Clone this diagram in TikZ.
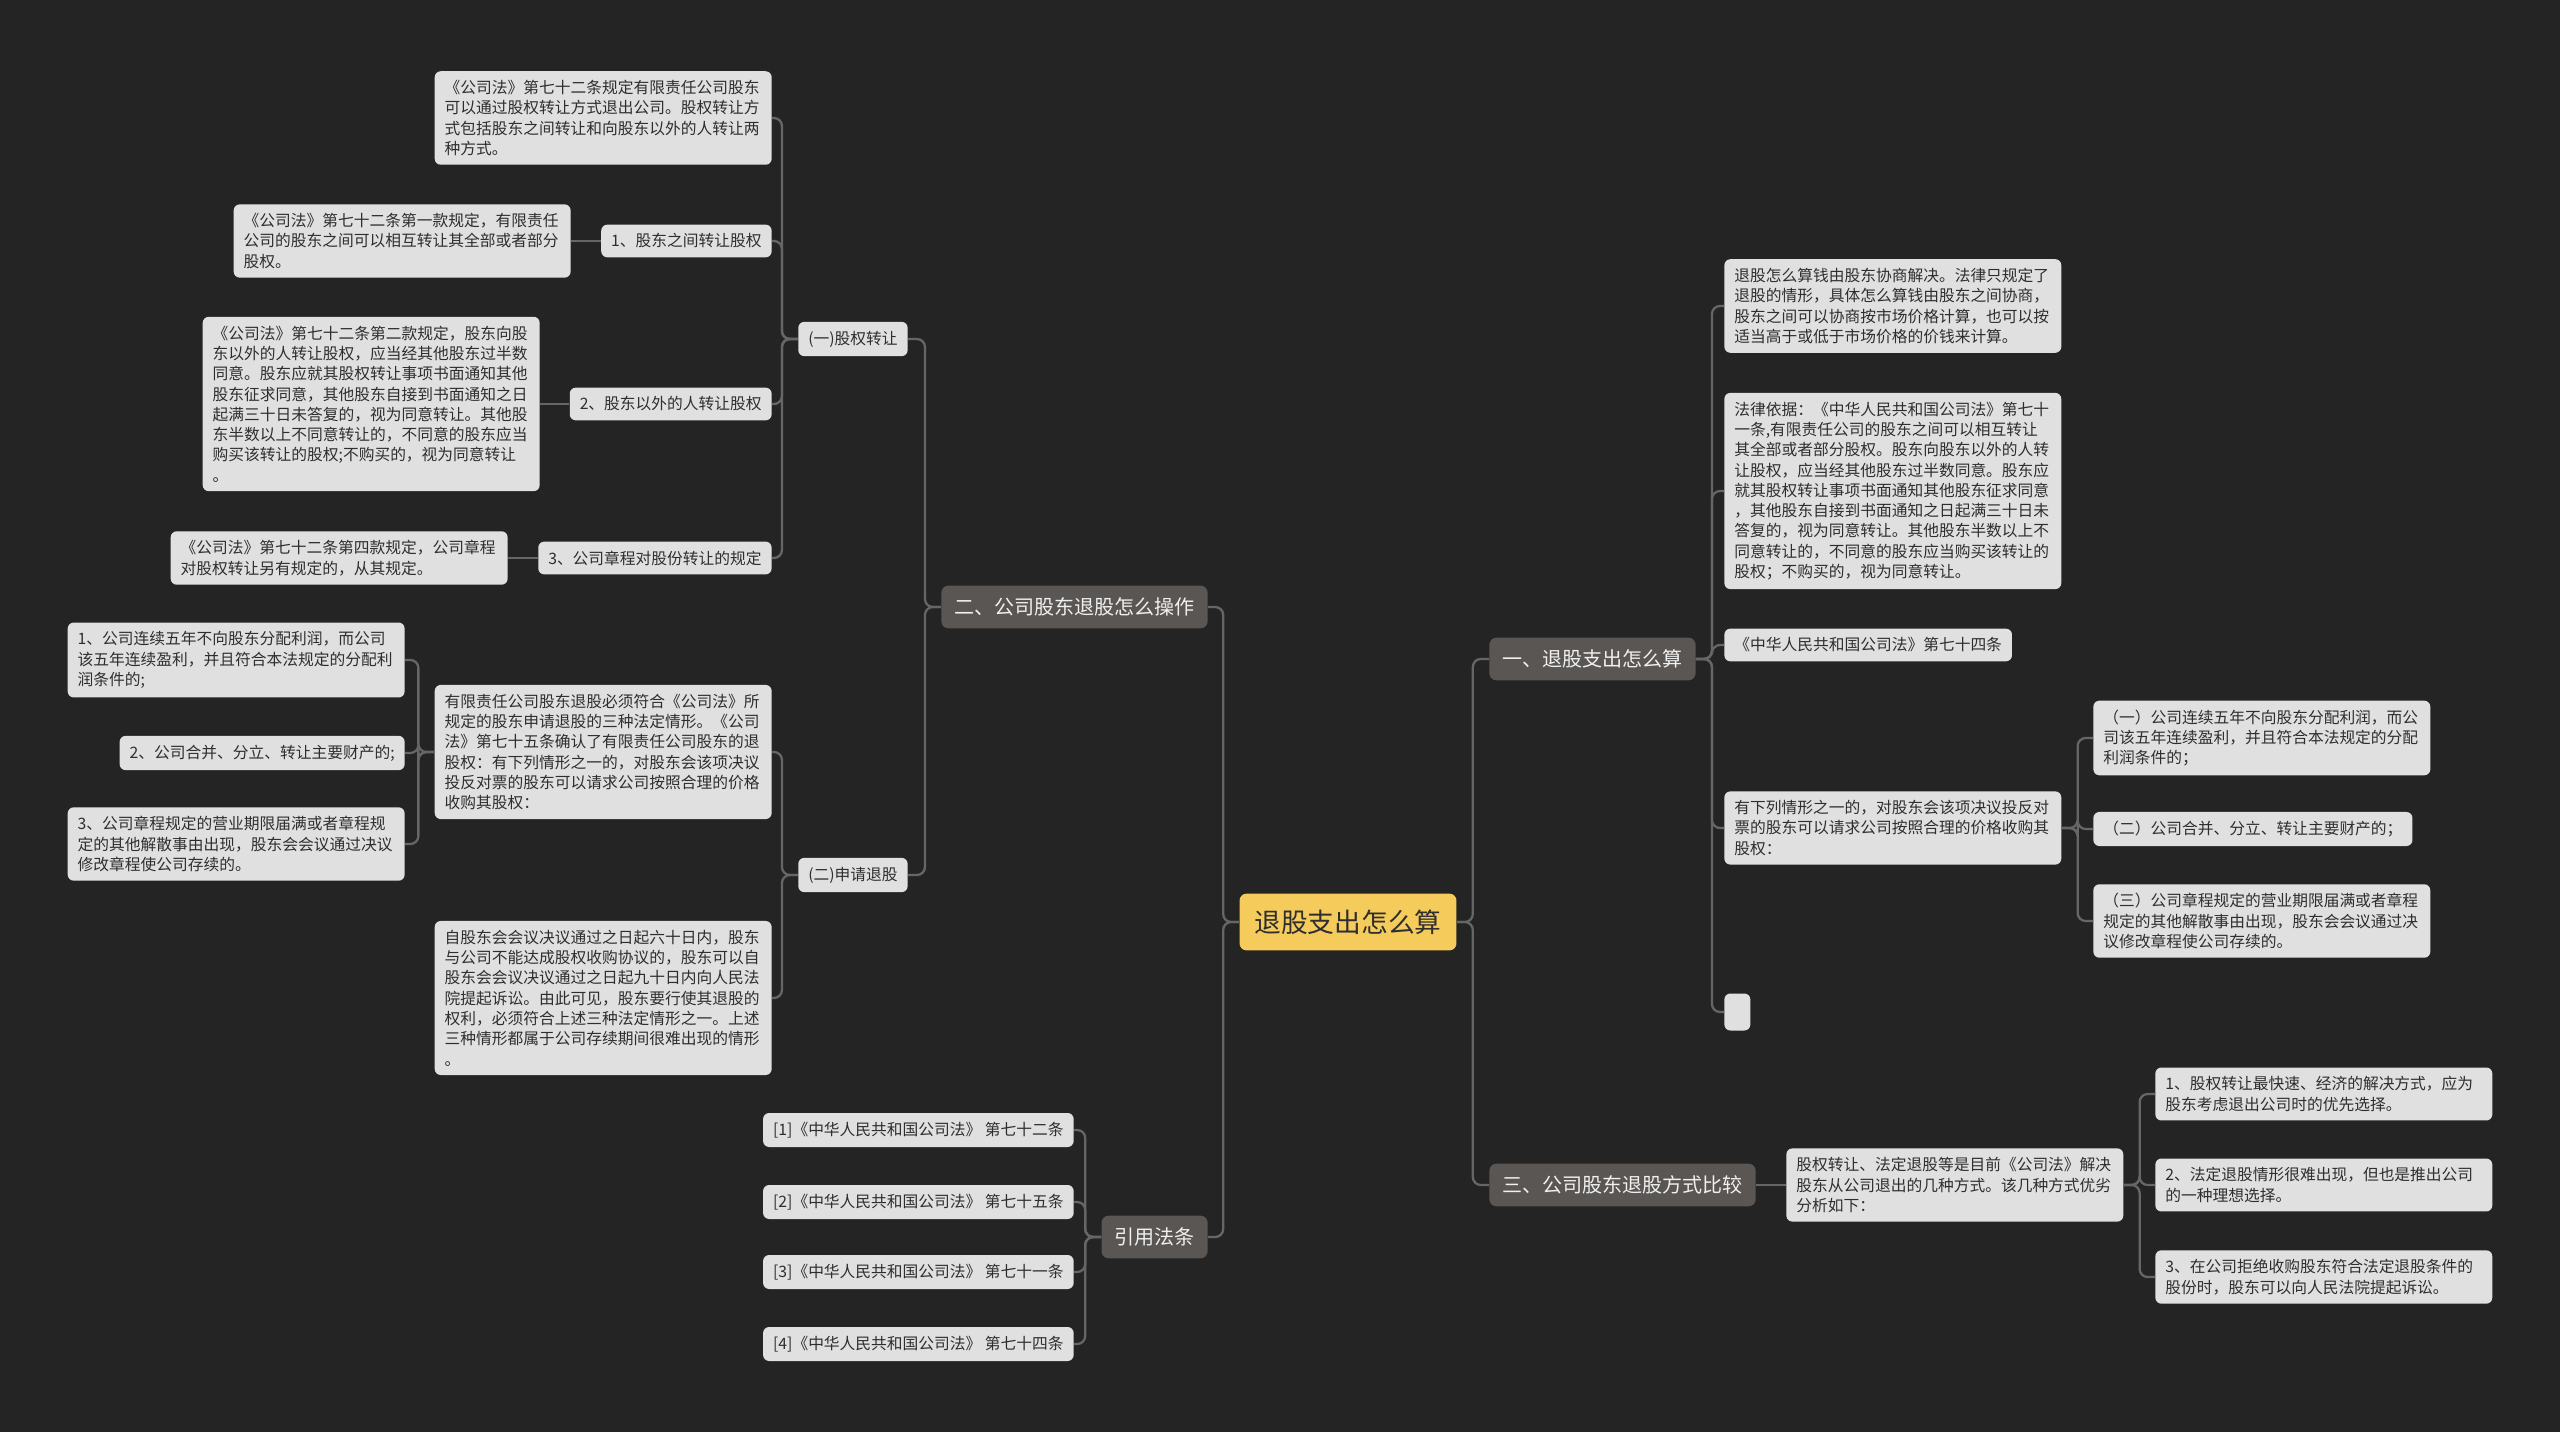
\documentclass[tikz,border=0pt]{standalone}
\usepackage{fontspec}
\newfontfamily\cjk{Noto Sans CJK SC}
\usepackage{xcolor}
\usepackage{tikz}

\definecolor{bgdark}{HTML}{242424}
\definecolor{leafgray}{HTML}{E0E0E0}
\definecolor{branchgray}{HTML}{5A5654}
\definecolor{rootyellow}{HTML}{F5CB5C}
\definecolor{linegray}{HTML}{666666}
\definecolor{textdark}{HTML}{2E2E2E}

\begin{document}
\begin{tikzpicture}[
        x=0.02cm, y=-0.02cm,
        every node/.style={font=\cjk},
        root/.style={fill=rootyellow, text=textdark, rounded corners=0.14cm, inner xsep=0.3cm, inner ysep=0.32cm, font=\cjk\fontsize{15.2pt}{18pt}\selectfont},
        branch/.style={fill=branchgray, text=white!94!black, rounded corners=0.14cm, inner xsep=0.26cm, inner ysep=0.24cm, font=\cjk\fontsize{11.4pt}{14pt}\selectfont},
        leaf/.style={fill=leafgray, text=textdark, rounded corners=0.12cm, align=left, inner xsep=0.2cm, inner ysep=0.18cm, font=\cjk\fontsize{8.96pt}{11.55pt}\selectfont},
        para/.style={leaf, text width=6.34cm},
        link/.style={draw=linegray, line width=1.3pt, rounded corners=0.16cm}
    ]
        \fill[bgdark] (0,0) rectangle (2560,1432);
        \useasboundingbox (0,0) rectangle (2560,1432);

        % Nodes
        \node (main) [root] at (1348,922) {退股支出怎么算};
        \node (ops) [branch, anchor=east] at (1208,607) {二、公司股东退股怎么操作};
        \node (laws) [branch, anchor=east] at (1208,1237) {引用法条};
        \node (calc) [branch, anchor=west] at (1489,659) {一、退股支出怎么算};
        \node (cmp) [branch, anchor=west] at (1489,1185) {三、公司股东退股方式比较};

        % (一)股权转让
        \node (share) [leaf, anchor=east] at (908,339) {(一)股权转让};
        \node (sA) [para, anchor=east] at (772,118) {《公司法》第七十二条规定有限责任公司股东\\可以通过股权转让方式退出公司。股权转让方\\式包括股东之间转让和向股东以外的人转让两\\种方式。};
        \node (s1) [leaf, anchor=east] at (772,241) {1、股东之间转让股权};
        \node (s1t) [para, anchor=east] at (571,241) {《公司法》第七十二条第一款规定，有限责任\\公司的股东之间可以相互转让其全部或者部分\\股权。};
        \node (s2) [leaf, anchor=east] at (772,404) {2、股东以外的人转让股权};
        \node (s2t) [para, anchor=east] at (540,404) {《公司法》第七十二条第二款规定，股东向股\\东以外的人转让股权，应当经其他股东过半数\\同意。股东应就其股权转让事项书面通知其他\\股东征求同意，其他股东自接到书面通知之日\\起满三十日未答复的，视为同意转让。其他股\\东半数以上不同意转让的，不同意的股东应当\\购买该转让的股权;不购买的，视为同意转让\\。};
        \node (s3) [leaf, anchor=east] at (772,558) {3、公司章程对股份转让的规定};
        \node (s3t) [para, anchor=east] at (508,558) {《公司法》第七十二条第四款规定，公司章程\\对股权转让另有规定的，从其规定。};

        % (二)申请退股
        \node (apply) [leaf, anchor=east] at (908,875) {(二)申请退股};
        \node (aB) [para, anchor=east] at (772,752) {有限责任公司股东退股必须符合《公司法》所\\规定的股东申请退股的三种法定情形。《公司\\法》第七十五条确认了有限责任公司股东的退\\股权：有下列情形之一的，对股东会该项决议\\投反对票的股东可以请求公司按照合理的价格\\收购其股权：};
        \node (aB1) [para, anchor=east] at (405,660) {1、公司连续五年不向股东分配利润，而公司\\该五年连续盈利，并且符合本法规定的分配利\\润条件的;};
        \node (aB2) [leaf, anchor=east] at (405,753) {2、公司合并、分立、转让主要财产的;};
        \node (aB3) [para, anchor=east] at (405,844) {3、公司章程规定的营业期限届满或者章程规\\定的其他解散事由出现，股东会会议通过决议\\修改章程使公司存续的。};
        \node (aC) [para, anchor=east] at (772,998) {自股东会会议决议通过之日起六十日内，股东\\与公司不能达成股权收购协议的，股东可以自\\股东会会议决议通过之日起九十日内向人民法\\院提起诉讼。由此可见，股东要行使其退股的\\权利，必须符合上述三种法定情形之一。上述\\三种情形都属于公司存续期间很难出现的情形\\。};

        % 引用法条
        \node (r1) [leaf, anchor=east] at (1074,1130) {[1]《中华人民共和国公司法》 第七十二条};
        \node (r2) [leaf, anchor=east] at (1074,1202) {[2]《中华人民共和国公司法》 第七十五条};
        \node (r3) [leaf, anchor=east] at (1074,1272) {[3]《中华人民共和国公司法》 第七十一条};
        \node (r4) [leaf, anchor=east] at (1074,1344) {[4]《中华人民共和国公司法》 第七十四条};

        % 一、退股支出怎么算
        \node (cD) [para, anchor=west] at (1724,306) {退股怎么算钱由股东协商解决。法律只规定了\\退股的情形，具体怎么算钱由股东之间协商，\\股东之间可以协商按市场价格计算，也可以按\\适当高于或低于市场价格的价钱来计算。};
        \node (cE) [para, anchor=west] at (1724,491) {法律依据：《中华人民共和国公司法》第七十\\一条,有限责任公司的股东之间可以相互转让\\其全部或者部分股权。股东向股东以外的人转\\让股权，应当经其他股东过半数同意。股东应\\就其股权转让事项书面通知其他股东征求同意\\，其他股东自接到书面通知之日起满三十日未\\答复的，视为同意转让。其他股东半数以上不\\同意转让的，不同意的股东应当购买该转让的\\股权；不购买的，视为同意转让。};
        \node (cF) [leaf, anchor=west] at (1724,645) {《中华人民共和国公司法》第七十四条};
        \node (cG) [para, anchor=west] at (1724,828) {有下列情形之一的，对股东会该项决议投反对\\票的股东可以请求公司按照合理的价格收购其\\股权：};
        \node (cG1) [para, anchor=west] at (2093,738) {（一）公司连续五年不向股东分配利润，而公\\司该五年连续盈利，并且符合本法规定的分配\\利润条件的；};
        \node (cG2) [leaf, anchor=west] at (2093,829) {（二）公司合并、分立、转让主要财产的；};
        \node (cG3) [para, anchor=west] at (2093,921) {（三）公司章程规定的营业期限届满或者章程\\规定的其他解散事由出现，股东会会议通过决\\议修改章程使公司存续的。};
        \node (cH) [leaf, anchor=west, inner sep=0pt, minimum width=0.52cm, minimum height=0.74cm] at (1724,1012) {};

        % 三、公司股东退股方式比较
        \node (mI) [para, anchor=west] at (1786,1185) {股权转让、法定退股等是目前《公司法》解决\\股东从公司退出的几种方式。该几种方式优劣\\分析如下：};
        \node (mI1) [para, anchor=west] at (2155,1094) {1、股权转让最快速、经济的解决方式，应为\\股东考虑退出公司时的优先选择。};
        \node (mI2) [para, anchor=west] at (2155,1185) {2、法定退股情形很难出现，但也是推出公司\\的一种理想选择。};
        \node (mI3) [para, anchor=west] at (2155,1277) {3、在公司拒绝收购股东符合法定退股条件的\\股份时，股东可以向人民法院提起诉讼。};

        % Links
        \foreach \b in {ops,laws} \draw[link] (main.west) -- ++(-16,0) |- (\b.east);
        \foreach \b in {calc,cmp} \draw[link] (main.east) -- ++(16,0) |- (\b.west);
        \foreach \c in {share,apply} \draw[link] (ops.west) -- ++(-16,0) |- (\c.east);
        \foreach \c in {sA,s1,s2,s3} \draw[link] (share.west) -- ++(-16,0) |- (\c.east);
        \draw[link] (s1.west) -- (s1t.east);
        \draw[link] (s2.west) -- (s2t.east);
        \draw[link] (s3.west) -- (s3t.east);
        \foreach \c in {aB,aC} \draw[link] (apply.west) -- ++(-16,0) |- (\c.east);
        \foreach \c in {aB1,aB2,aB3} \draw[link] (aB.west) -- ++(-16,0) |- (\c.east);
        \foreach \c in {r1,r2,r3,r4} \draw[link] (laws.west) -- ++(-16,0) |- (\c.east);
        \foreach \c in {cD,cE,cF,cG,cH} \draw[link] (calc.east) -- ++(16,0) |- (\c.west);
        \foreach \c in {cG1,cG2,cG3} \draw[link] (cG.east) -- ++(16,0) |- (\c.west);
        \draw[link] (cmp.east) -- (mI.west);
        \foreach \c in {mI1,mI2,mI3} \draw[link] (mI.east) -- ++(16,0) |- (\c.west);
    \end{tikzpicture}
\end{document}
